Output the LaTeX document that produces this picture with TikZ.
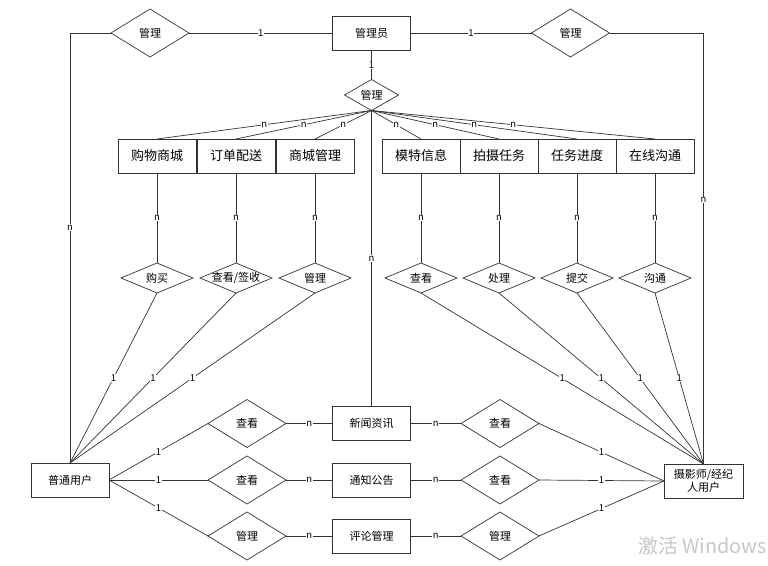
\documentclass[tikz,border=0pt]{standalone}
\usepackage{fontspec}
\setmainfont{Noto Sans CJK SC}
\usetikzlibrary{shapes.geometric}
\definecolor{ln}{HTML}{333333}
\tikzset{
  ent/.style={draw=ln, line width=0.9pt, minimum width=78pt, minimum height=34pt, inner sep=1pt, outer sep=0pt, font=\fontsize{11}{13}\selectfont, align=center},
  entbig/.style={ent, font=\fontsize{13}{15}\selectfont},
  rel/.style={diamond, draw=ln, line width=0.7pt, minimum width=78pt, minimum height=48pt, inner sep=0pt, outer sep=0pt,
     label={[font=\fontsize{11}{13}\selectfont, inner sep=0pt]center:#1}},
  relsm/.style={rel=#1, minimum width=72pt, minimum height=30pt},
  con/.style={draw=ln, line width=0.7pt},
  lab/.style={fill=white, inner sep=0.6pt, font=\fontsize{9.5}{10}\selectfont}
}
\begin{document}
\begin{tikzpicture}[x=1pt,y=-1pt]
\useasboundingbox (0,0) rectangle (768,565);
% top
\node[ent] (adm) at (371.5,33) {管理员};
\node[rel=管理] (dl) at (150,33) {};
\node[rel=管理] (dr) at (570.5,33) {};
\node[rel=管理, minimum width=54pt, minimum height=31pt] (dm) at (371.5,95) {};
% row of entities
\node[entbig] (e1) at (157,156) {购物商城};
\node[entbig] (e2) at (236,156) {订单配送};
\node[entbig] (e3) at (315,156) {商城管理};
\node[entbig] (e4) at (421,156) {模特信息};
\node[entbig] (e5) at (499,156) {拍摄任务};
\node[entbig] (e6) at (577,156) {任务进度};
\node[entbig] (e7) at (655,156) {在线沟通};
% row of relations
\node[relsm=购买] (r1) at (157,278) {};
\node[relsm=查看/签收] (r2) at (236,278) {};
\node[relsm=管理] (r3) at (315,278) {};
\node[relsm=查看] (r4) at (421,278) {};
\node[relsm=处理] (r5) at (499,278) {};
\node[relsm=提交] (r6) at (577,278) {};
\node[relsm=沟通] (r7) at (655,278) {};
% users
\node[ent] (pu) at (70,480) {普通用户};
\node[ent, minimum width=79pt] (sy) at (703.5,481) {摄影师/经纪\\人用户};
% bottom entities
\node[ent] (b1) at (371.5,423.5) {新闻资讯};
\node[ent] (b2) at (371.5,480) {通知公告};
\node[ent] (b3) at (371.5,536) {评论管理};
\node[rel=查看] (l1) at (247,423.5) {};
\node[rel=查看] (l2) at (247,480) {};
\node[rel=管理] (l3) at (247,536) {};
\node[rel=查看] (q1) at (500,423.5) {};
\node[rel=查看] (q2) at (500,480) {};
\node[rel=管理] (q3) at (500,536) {};
% connectors top
\draw[con] (dl.east) -- node[lab]{1} (adm.west);
\draw[con] (adm.east) -- node[lab]{1} (dr.west);
\draw[con] (dl.west) -| node[lab, pos=0.726]{n} (pu.north);
\draw[con] (dr.east) -| node[lab, pos=0.694]{n} (sy.north);
\draw[con] (adm.south) -- node[lab]{1} (dm.north);
\foreach \e in {e1,e2,e3,e4,e5,e6,e7}{
  \draw[con] (dm.south) -- node[lab]{n} (\e.north);
}
\draw[con] (dm.south) -- node[lab]{n} (b1.north);
\foreach \e/\r in {e1/r1,e2/r2,e3/r3,e4/r4,e5/r5,e6/r6,e7/r7}{
  \draw[con] (\e.south) -- node[lab]{n} (\r.north);
}
\foreach \r in {r1,r2,r3}{
  \draw[con] (\r.south) -- node[lab]{1} (pu.north);
}
\foreach \r in {r4,r5,r6,r7}{
  \draw[con] (\r.south) -- node[lab]{1} (sy.north);
}
% bottom connectors
\foreach \l/\b/\q in {l1/b1/q1,l2/b2/q2,l3/b3/q3}{
  \draw[con] (pu.east) -- node[lab]{1} (\l.west);
  \draw[con] (\l.east) -- node[lab]{n} (\b.west);
  \draw[con] (\b.east) -- node[lab]{n} (\q.west);
  \draw[con] (\q.east) -- node[lab]{1} (sy.west);
}
% watermark
\node[anchor=east, text=black!22, font=\fontsize{19.8}{22}\selectfont, inner sep=0pt] (wm) at (767,546) {激活 Windows};
\end{tikzpicture}
\end{document}
